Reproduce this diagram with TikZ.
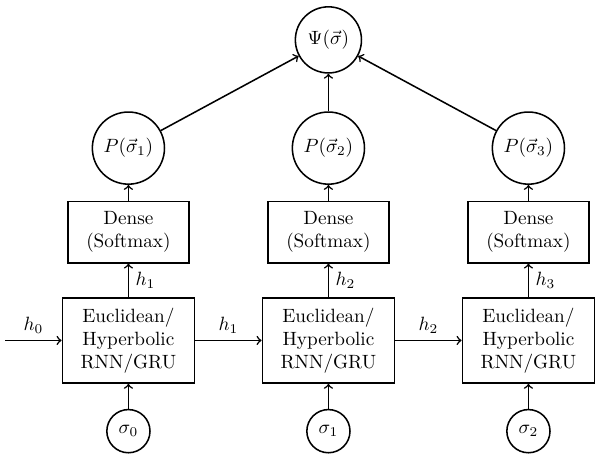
\documentclass[tikz,border=0pt]{standalone}
\usepackage{amsmath}
\usepackage{amssymb}
\usepackage{tikz}
\usetikzlibrary{shapes,arrows}
\tikzstyle{cell} = [rectangle, draw, text centered, align=center, minimum width=2.42cm, minimum height=1.56cm, inner sep=2pt]
\tikzstyle{dense} = [rectangle, draw, text centered, align=center, minimum width=2.22cm, minimum height=1.12cm, inner sep=2pt]
\tikzstyle{prob} = [circle, draw, minimum size=1.32cm, inner sep=0pt]
\tikzstyle{spin} = [circle, draw, minimum size=0.79cm, inner sep=0pt]
\tikzstyle{line} = [draw, ->]

\begin{document}
\begin{tikzpicture}[thick]
\useasboundingbox (0,0) rectangle (10.98,-8.71);
\node [prob, minimum size=1.21cm] (psi) at (6.01,-0.73) {$\Psi(\vec{\sigma})$};
\node [prob] (prob-1) at (2.35,-2.71) {$P(\vec{\sigma}_1)$};
\node [prob] (prob-2) at (6.01,-2.71) {$P(\vec{\sigma}_2)$};
\node [prob] (prob-3) at (9.67,-2.71) {$P(\vec{\sigma}_3)$};
\node [dense] (dense-1) at (2.35,-4.25) {Dense\\(Softmax)};
\node [dense] (dense-2) at (6.01,-4.25) {Dense\\(Softmax)};
\node [dense] (dense-3) at (9.67,-4.25) {Dense\\(Softmax)};
\node [cell] (rnn-1) at (2.35,-6.23) {Euclidean/\\Hyperbolic\\RNN/GRU};
\node [cell] (rnn-2) at (6.01,-6.23) {Euclidean/\\Hyperbolic\\RNN/GRU};
\node [cell] (rnn-3) at (9.67,-6.23) {Euclidean/\\Hyperbolic\\RNN/GRU};
\node [spin] (sigma-0) at (2.35,-7.89) {$\sigma_0$};
\node [spin] (sigma-1) at (6.01,-7.89) {$\sigma_1$};
\node [spin] (sigma-2) at (9.67,-7.89) {$\sigma_2$};
\coordinate (start) at (0.1,-6.23);
\path [line] (start) -- node [above] {$h_0$} (rnn-1);
\path [line] (rnn-1) -- node [above] {$h_1$} (rnn-2);
\path [line] (rnn-2) -- node [above] {$h_2$} (rnn-3);
\path [line] (sigma-0) -- (rnn-1);
\path [line] (sigma-1) -- (rnn-2);
\path [line] (sigma-2) -- (rnn-3);
\path [line] (rnn-1) -- node [right] {$h_1$} (dense-1);
\path [line] (rnn-2) -- node [right] {$h_2$} (dense-2);
\path [line] (rnn-3) -- node [right] {$h_3$} (dense-3);
\path [line] (dense-1) -- (prob-1);
\path [line] (dense-2) -- (prob-2);
\path [line] (dense-3) -- (prob-3);
\path [line] (prob-1) -- (psi);
\path [line] (prob-2) -- (psi);
\path [line] (prob-3) -- (psi);
\end{tikzpicture}
\end{document}
